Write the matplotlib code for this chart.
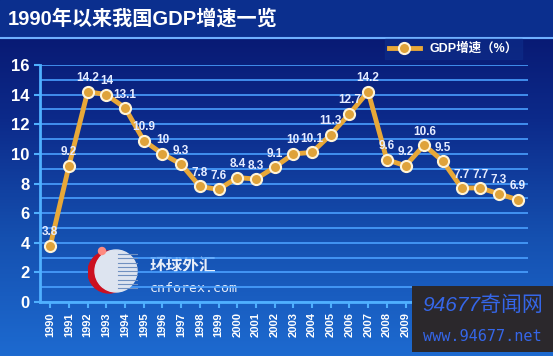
import numpy as np
import matplotlib
matplotlib.use('Agg')
import matplotlib.pyplot as plt
from matplotlib.patches import Rectangle, Circle

plt.rcParams['font.family'] = ['Liberation Sans', 'Noto Sans CJK SC', 'DejaVu Sans']

years = list(range(1990, 2016))
growth = [3.8, 9.2, 14.2, 14, 13.1, 10.9, 10, 9.3, 7.8, 7.6, 8.4, 8.3, 9.1,
          10, 10.1, 11.3, 12.7, 14.2, 9.6, 9.2, 10.6, 9.5, 7.7, 7.7, 7.3, 6.9]
labels = ['3.8', '9.2', '14.2', '14', '13.1', '10.9', '10', '9.3', '7.8', '7.6',
          '8.4', '8.3', '9.1', '10', '10.1', '11.3', '12.7', '14.2', '9.6', '9.2',
          '10.6', '9.5', '7.7', '7.7', '7.3', '6.9']
yticks = [0, 2, 4, 6, 8, 10, 12, 14, 16]

W, H = 553, 356
fig = plt.figure(figsize=(W / 100, H / 100), dpi=100)

# background gradient
bg = fig.add_axes([0, 0, 1, 1])
grad = np.linspace(0, 1, 256).reshape(-1, 1)
cmap = matplotlib.colors.LinearSegmentedColormap.from_list(
    'bg', ['#07136a', '#0c2a8a', '#1550b0', '#1d6ad0'])
bg.imshow(grad, aspect='auto', cmap=cmap, extent=[0, 1, 0, 1], origin='upper')
bg.add_patch(Rectangle((0, 1 - 38 / H), 1, 38 / H, color='#0b2f8e', zorder=2))
bg.axhline(1 - 38 / H, color='#6fb0ff', lw=1.5, zorder=3)
bg.set_xlim(0, 1)
bg.set_ylim(0, 1)
bg.axis('off')
bg.text(8 / W, 1 - 19 / H, '1990年以来我国GDP增速一览', color='white',
        fontsize=14.5, fontweight='bold', va='center', ha='left', zorder=4)

ax = fig.add_axes([40 / W, 1 - 302 / H, 488 / W, 237 / H])
ax.patch.set_alpha(0)
x = np.array(years)
ax.set_xlim(1989.45, 2015.55)
ax.set_ylim(0, 16)
for v in range(0, 17):
    ax.axhline(v, color='#4aa0ff', lw=1.4, alpha=0.85, zorder=1)

ax.plot(x, growth, color='#e8a838', lw=3.5, zorder=3, label='GDP增速（%）',
        marker='o', markersize=8, markerfacecolor='#dfa33a',
        markeredgecolor='#fff4d8', markeredgewidth=1.5)
for xi, yi, t in zip(x, growth, labels):
    ax.text(xi, yi + 0.5, t, color='#e6ecff', fontsize=8.5, fontweight='bold',
            ha='center', va='bottom', zorder=4)

ax.set_yticks(yticks)
ax.set_yticklabels([str(v) for v in yticks], color='white', fontsize=12,
                   fontweight='bold')
ax.set_xticks(x)
ax.set_xticklabels([str(y) for y in years], rotation=90, color='white',
                   fontsize=8, fontweight='bold')
ax.tick_params(axis='both', colors='#4fb0ff', length=4, width=1.5)
ax.tick_params(axis='x', labelcolor='white')
ax.tick_params(axis='y', labelcolor='white')
for s in ['top', 'right']:
    ax.spines[s].set_visible(False)
ax.spines['left'].set_color('#4fb0ff')
ax.spines['bottom'].set_color('#4fb0ff')
ax.spines['left'].set_linewidth(2)
ax.spines['bottom'].set_linewidth(2)

leg = ax.legend(loc='lower right', bbox_to_anchor=(1.0, 1.0), frameon=True,
                fontsize=9, handlelength=2.5, borderpad=0.3, fancybox=False)
leg.get_frame().set_facecolor('#0d2a86')
leg.get_frame().set_edgecolor('#0d2a86')
for t in leg.get_texts():
    t.set_color('white')
    t.set_fontweight('bold')

# watermark logo (square axes so circles stay round)
logo = fig.add_axes([88 / W, 1 - 296 / H, 50 / W, 50 / H])
logo.set_xlim(0, 1)
logo.set_ylim(0, 1)
logo.axis('off')
logo.add_patch(Circle((0.42, 0.48), 0.42, color='#cc1020'))
logo.add_patch(Circle((0.56, 0.5), 0.42, color='#dde4f0'))
for k in range(9):
    logo.axhline(0.16 + k * 0.085, xmin=0.6, xmax=0.98, color='#7090c0', lw=0.8)
logo.add_patch(Circle((0.28, 0.9), 0.07, color='#ff8a80'))
bg.text(150 / W, 1 - 266 / H, '环球外汇', color='#e8eef8', fontsize=12,
        fontweight='bold', ha='left', va='center', zorder=6)
bg.text(150 / W, 1 - 289 / H, 'cnforex.com', color='#e8eef8', fontsize=9.5,
        family='DejaVu Sans Mono', ha='left', va='center', zorder=6)

# corner watermark on top of everything
wm = fig.add_axes([412 / W, 1 - 352 / H, 141 / W, 66 / H])
wm.set_xlim(0, 1)
wm.set_ylim(0, 1)
wm.axis('off')
wm.add_patch(Rectangle((0, 0), 1, 1, color='#2b282c'))
wm.text(0.5, 0.7, '94677奇闻网', color='#3566e8', fontsize=15,
        style='italic', ha='center', va='center')
wm.text(0.5, 0.24, 'www.94677.net', color='#3566e8', fontsize=11,
        family='DejaVu Sans Mono', ha='center', va='center')

fig.savefig('out.png', dpi=100)
